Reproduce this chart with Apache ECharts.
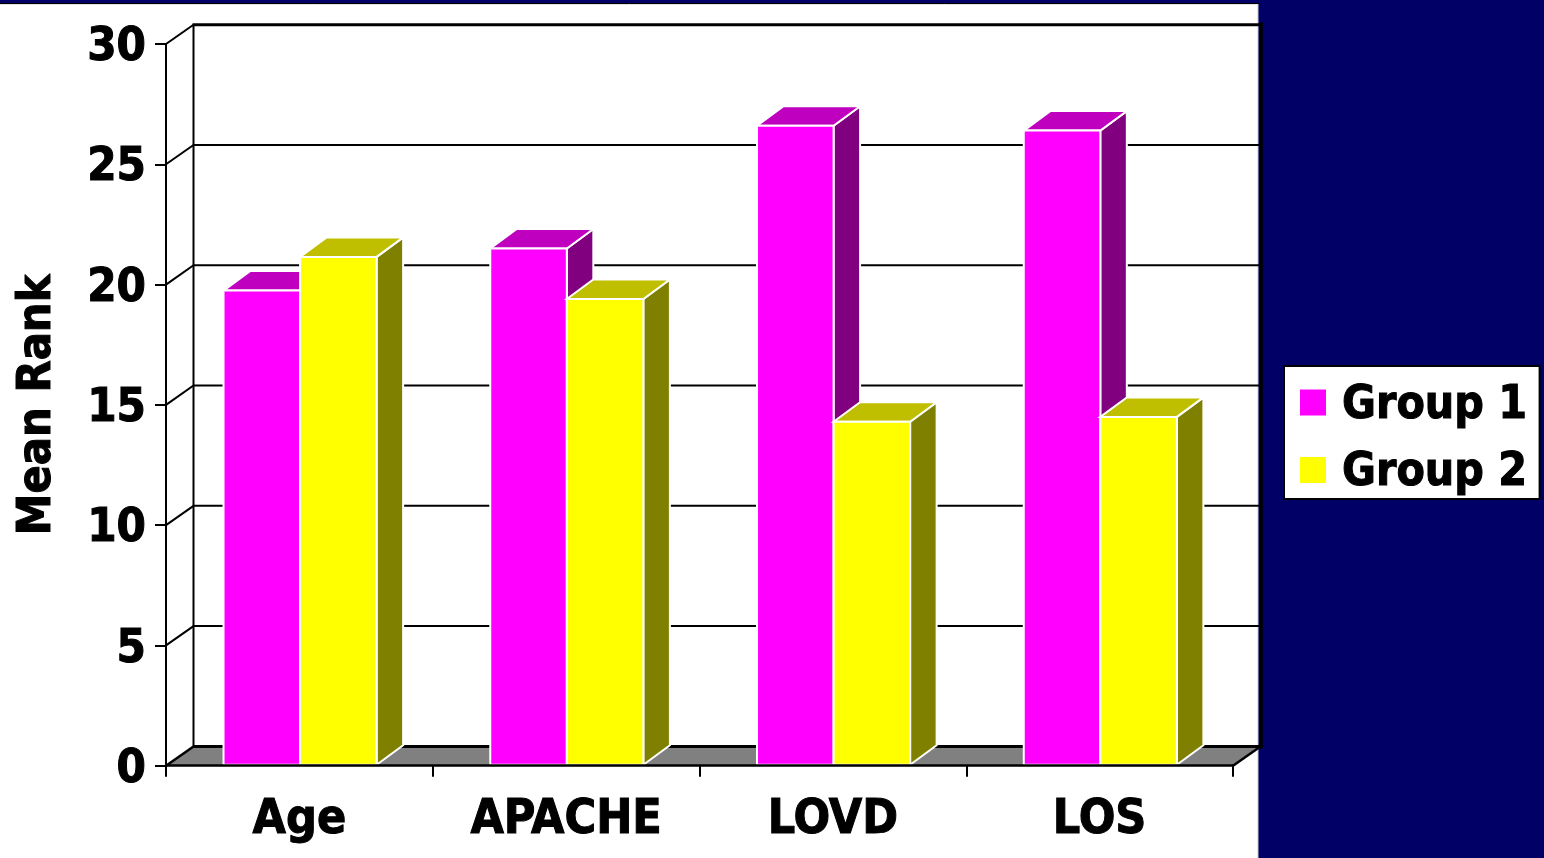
<!DOCTYPE html>
<html>
<head>
<meta charset="utf-8">
<style>html,body{margin:0;padding:0;background:#000066}#chart{width:1544px;height:858px}</style>
<script src="https://cdn.jsdelivr.net/npm/echarts@6/dist/echarts.min.js"></script>
</head>
<body>
<div id="chart"></div>
<script>
// Mean rank per clinical measure, for the two groups
const categories = ['Age', 'APACHE', 'LOVD', 'LOS'];
const group1 = [19.75, 21.5, 26.6, 26.4];
const group2 = [21.15, 19.4, 14.3, 14.5];
const yTicks = [0, 5, 10, 15, 20, 25, 30];

// Pseudo-3D projection: how far the back of the chart box sits from the front
const wallDX = 27.5, wallDY = 19.3;
const barDX = 26.5, barDY = 19.5;
const barShare = 0.287;
const barNudge = 0.7;
const FONT = '"DejaVu Sans Condensed", "DejaVu Sans", Verdana, sans-serif';

const chart = echarts.init(document.getElementById('chart'), null, { renderer: 'canvas' });

function poly(points, fill, stroke, lineWidth) {
  return {
    type: 'polygon',
    shape: { points },
    style: { fill, stroke: stroke || null, lineWidth: lineWidth || 0, lineJoin: 'miter' }
  };
}
function seg(x1, y1, x2, y2, width) {
  return {
    type: 'line',
    shape: { x1, y1, x2, y2 },
    style: { stroke: '#000', lineWidth: width, lineCap: 'butt' }
  };
}

// Floor, back wall and receding gridlines
function renderFrame(params, api) {
  const v = api.value(1);
  const band = api.size([1, 0])[0];
  const p = api.coord([0, v]);
  const left = p[0] - band / 2;
  const right = left + band * categories.length;
  const y = p[1];
  const kids = [];
  if (v === 0) {
    kids.push(poly([[left, y], [left + wallDX, y - wallDY], [right + wallDX - 1, y - wallDY], [right, y]], '#808080'));
    kids.push(seg(left + wallDX, y - wallDY, right + wallDX, y - wallDY, 3));
    kids.push(seg(left, y, left + wallDX, y - wallDY, 2.5));
    kids.push(seg(right, y, right + wallDX, y - wallDY, 2.5));
    kids.push(seg(left + wallDX, y - wallDY + 1, left + wallDX, y - wallDY - 721, 2));
    kids.push(seg(right + wallDX + 0.5, y - wallDY + 2, right + wallDX + 0.5, y - wallDY - 724, 3.5));
  } else if (v === 30) {
    kids.push(seg(left, y, left + wallDX, y - wallDY, 2));
    kids.push(seg(left + wallDX - 1, y - wallDY, right + wallDX + 2, y - wallDY, 3));
  } else {
    kids.push(seg(left, y, left + wallDX, y - wallDY, 2));
    kids.push(seg(left + wallDX, y - wallDY, right + wallDX, y - wallDY, 2));
  }
  return { type: 'group', children: kids };
}

// One three-sided bar; slot 0 sits left of the category centre, slot 1 right of it
function bar3d(slot, front, top, side) {
  return function (params, api) {
    const cat = api.value(0);
    const tip = api.coord([cat, api.value(1)]);
    const base = api.coord([cat, 0]);
    const w = api.size([1, 0])[0] * barShare;
    const x0 = tip[0] + barNudge + (slot === 0 ? -w : 0);
    const x1 = x0 + w;
    const yT = tip[1], yB = base[1] - 1;
    const edge = '#ffffff';
    return {
      type: 'group',
      children: [
        poly([[x1, yB], [x1 + barDX, yB - barDY], [x1 + barDX, yT - barDY], [x1, yT]], side, edge, 2),
        poly([[x0, yT], [x0 + barDX, yT - barDY], [x1 + barDX, yT - barDY], [x1, yT]], top, edge, 2),
        poly([[x0, yB], [x0, yT], [x1, yT], [x1, yB]], front, edge, 2)
      ]
    };
  };
}

const pointsOf = vals => vals.map((v, i) => [i, v]);
const heavy = { textBorderColor: '#000', textBorderWidth: 1 };

chart.setOption({
  animation: false,
  backgroundColor: '#000066',
  textStyle: { fontFamily: FONT },
  graphic: [
    { type: 'rect', z: -10, shape: { x: -5, y: 4, width: 1263, height: 860 }, style: { fill: '#ffffff', stroke: '#c8c8c8', lineWidth: 1 } },
    { type: 'line', z: -9, shape: { x1: 0, y1: 3.5, x2: 1259, y2: 3.5 }, style: { stroke: '#000', lineWidth: 1 } }
  ],
  grid: { left: 166, right: 311, top: 44, bottom: 92.3, containLabel: false, outerBoundsMode: 'none' },
  legend: {
    left: 1284, top: 366,
    orient: 'vertical',
    data: ['Group 1', 'Group 2'],
    icon: 'rect',
    itemWidth: 26, itemHeight: 26,
    itemGap: 14,
    padding: [10, 12, 2, 16],
    backgroundColor: '#ffffff',
    borderColor: '#000000',
    borderWidth: 2,
    borderRadius: 0,
    selectedMode: false,
    formatter: name => '{t|' + name + '}',
    textStyle: {
      fontFamily: FONT, fontWeight: 'bold', fontSize: 46, color: '#000', padding: [0, 0, 0, 11],
      rich: { t: { fontFamily: FONT, fontWeight: 'bold', fontSize: 46, lineHeight: 39, color: '#000', padding: [7, 0, 0, 0], ...heavy } }
    }
  },
  xAxis: {
    type: 'category',
    data: categories,
    z: 10,
    axisLine: { show: true, lineStyle: { color: '#000', width: 2.5 } },
    axisTick: { show: true, length: 11, alignWithLabel: false, lineStyle: { color: '#000', width: 2 } },
    axisLabel: { color: '#000', fontFamily: FONT, fontWeight: 'bold', fontSize: 48, margin: 31, ...heavy }
  },
  yAxis: {
    type: 'value',
    min: 0, max: 30, interval: 5,
    z: 10,
    name: 'Mean Rank',
    nameLocation: 'middle',
    nameGap: 105,
    nameRotate: 90,
    nameTextStyle: { color: '#000', fontFamily: FONT, fontWeight: 'bold', fontSize: 46.5, ...heavy },
    axisLine: { show: true, lineStyle: { color: '#000', width: 2 } },
    axisTick: { show: true, length: 11, lineStyle: { color: '#000', width: 2 } },
    axisLabel: { color: '#000', fontFamily: FONT, fontWeight: 'bold', fontSize: 47, margin: 20,
      verticalAlign: 'top', lineHeight: 8, ...heavy,
      formatter: v => String(v) },
    splitLine: { show: false }
  },
  series: [
    { type: 'custom', name: 'frame', z: 1, silent: true, renderItem: renderFrame,
      data: yTicks.map(v => [0, v]), encode: { x: 0, y: 1 } },
    { type: 'custom', name: 'Group 1', z: 3, itemStyle: { color: '#ff00ff' },
      renderItem: bar3d(0, '#ff00ff', '#bf00bf', '#800080'),
      data: pointsOf(group1), encode: { x: 0, y: 1 } },
    { type: 'custom', name: 'Group 2', z: 4, itemStyle: { color: '#ffff00' },
      renderItem: bar3d(1, '#ffff00', '#bfbf00', '#808000'),
      data: pointsOf(group2), encode: { x: 0, y: 1 } }
  ]
});
</script>
</body>
</html>
